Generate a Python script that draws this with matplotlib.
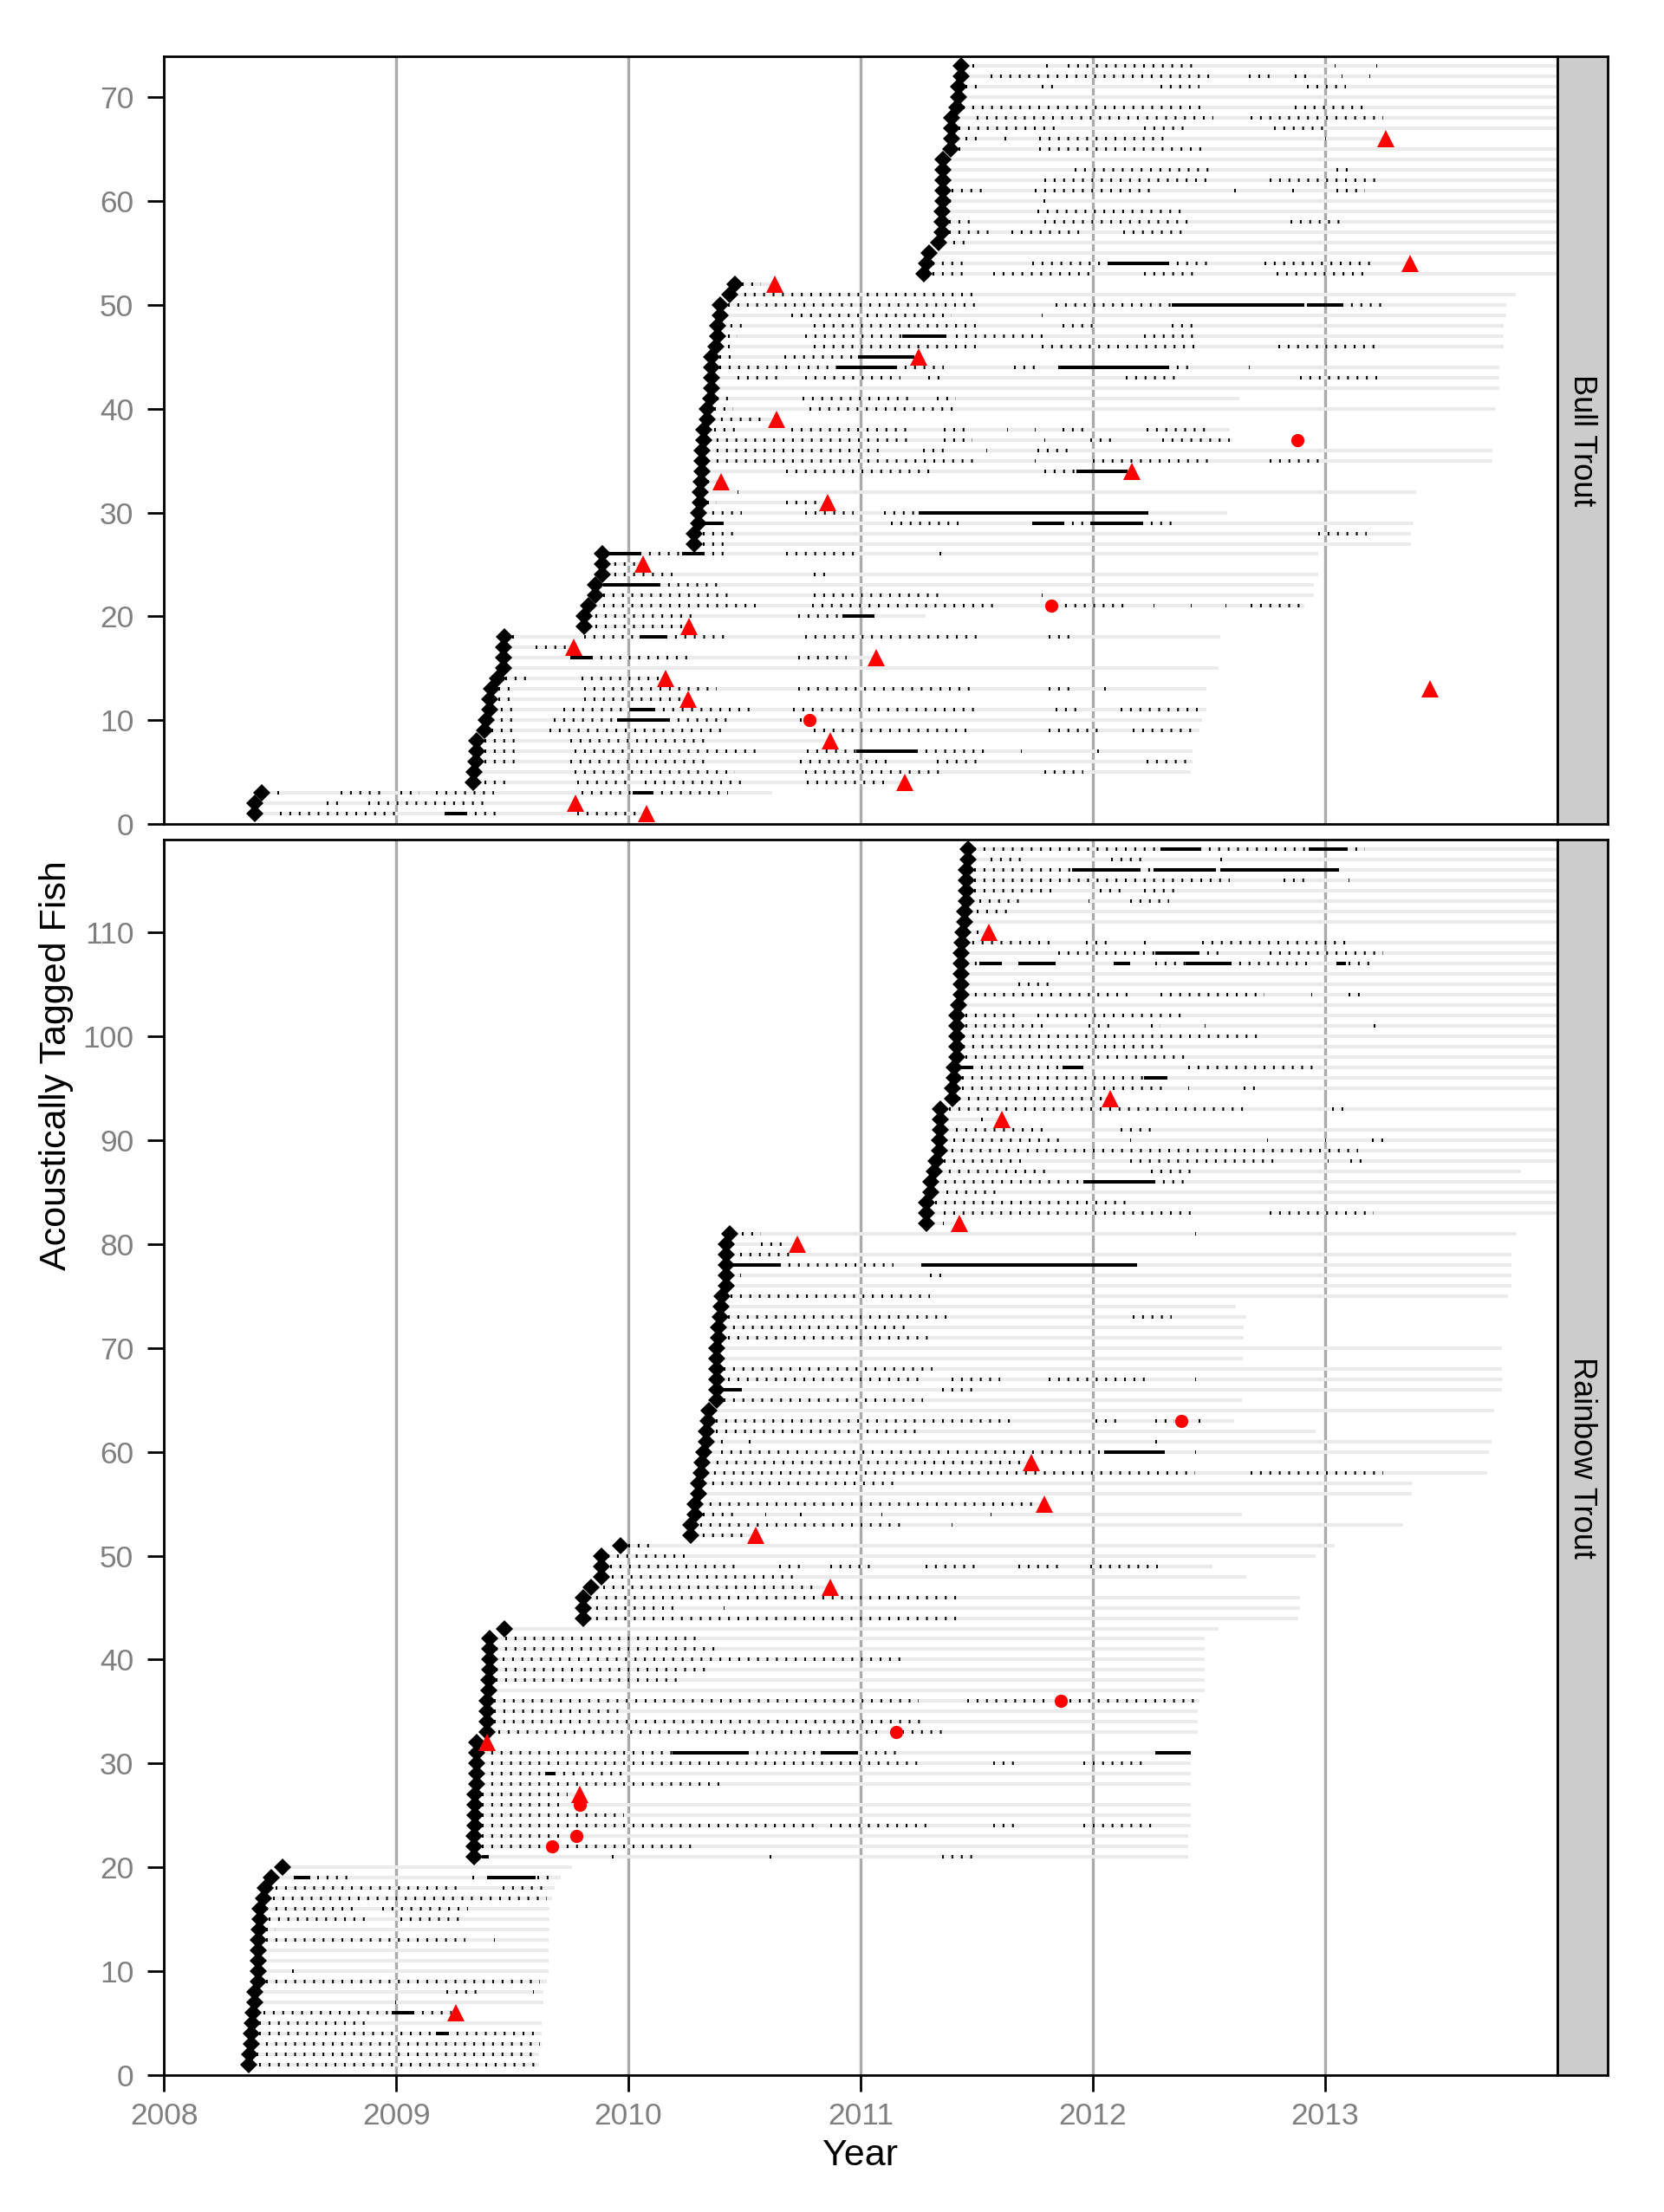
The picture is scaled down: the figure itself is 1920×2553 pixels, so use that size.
import numpy as np
import matplotlib
matplotlib.use('Agg')
import matplotlib.pyplot as plt

plt.rcParams['font.family'] = ['Liberation Sans', 'DejaVu Sans']

# Bull Trout: tag date, end of tag life, detections ('*' = continuous run)
bt_tag = [2008.39, 2008.39, 2008.42, 2009.333, 2009.336, 2009.342, 2009.348, 2009.348, 2009.381, 2009.387,
          2009.402, 2009.402, 2009.411, 2009.438, 2009.462, 2009.462, 2009.462, 2009.465, 2009.81, 2009.81,
          2009.828, 2009.858, 2009.858, 2009.888, 2009.888, 2009.888, 2010.284, 2010.284, 2010.302, 2010.302,
          2010.308, 2010.308, 2010.314, 2010.317, 2010.317, 2010.317, 2010.323, 2010.324, 2010.339, 2010.339,
          2010.354, 2010.36, 2010.36, 2010.36, 2010.36, 2010.378, 2010.384, 2010.384, 2010.396, 2010.396,
          2010.435, 2010.458, 2011.274, 2011.283, 2011.295, 2011.334, 2011.352, 2011.352, 2011.352, 2011.355,
          2011.355, 2011.355, 2011.355, 2011.355, 2011.387, 2011.393, 2011.393, 2011.393, 2011.414, 2011.423,
          2011.423, 2011.432, 2011.432]
bt_end = [2010.08, 2009.77, 2010.62, 2011.19, 2012.42, 2012.43, 2012.43, 2010.87, 2012.46, 2012.47,
          2012.49, 2010.26, 2012.49, 2010.16, 2012.54, 2011.07, 2009.77, 2012.55, 2010.26, 2011.28,
          2012.91, 2012.95, 2012.95, 2012.97, 2010.06, 2012.97, 2013.37, 2013.37, 2013.38, 2012.58,
          2010.86, 2013.39, 2010.40, 2012.17, 2013.72, 2013.72, 2012.60, 2012.59, 2010.64, 2013.73,
          2012.63, 2013.75, 2013.75, 2013.75, 2011.25, 2013.77, 2013.77, 2013.77, 2013.78, 2013.78,
          2013.82, 2010.63, 2014.2, 2013.365, 2014.2, 2014.2, 2014.2, 2014.2, 2014.2, 2014.2,
          2014.2, 2014.2, 2014.2, 2014.2, 2014.2, 2013.263, 2014.2, 2014.2, 2014.2, 2014.2,
          2014.2, 2014.2, 2014.2]
bt_det = [
    "2008.50-2009.00 2009.21-2009.30* 2009.30-2009.46 2009.78-2010.05",
    "2008.70-2008.75 2008.88-2009.38",
    "2008.49 2008.76-2008.94 2009.02-2009.10 2009.17-2009.42 2009.80-2010.02 2010.02-2010.10* 2010.10-2010.43",
    "2009.38-2009.50 2009.78-2010.01 2010.07-2010.49 2010.77-2011.10",
    "2009.36-2009.39 2009.77-2010.46 2010.76-2011.37 2011.79-2011.96",
    "2009.38-2009.53 2009.75-2010.35 2010.74-2011.13 2011.33-2011.51 2012.23-2012.41",
    "2009.38-2009.53 2009.77-2010.55 2010.77-2010.98 2010.98-2011.24* 2011.24-2011.54 2011.69 2012.02",
    "2009.38-2009.53 2009.75-2010.34",
    "2009.41-2009.53 2009.66-2010.43 2010.80-2011.46 2011.81-2012.03 2012.17-2012.44",
    "2009.41-2009.53 2009.68-2009.95 2009.95-2010.17* 2010.17-2010.44 2010.74",
    "2009.41-2009.51 2009.72-2010.01 2010.01-2010.11* 2010.11-2010.53 2010.71-2011.52 2011.84-2011.96 2012.12-2012.48",
    "2009.44-2009.50 2009.81-2010.25",
    "2009.44-2009.51 2009.81-2010.38 2010.73-2011.49 2011.81-2011.90 2012.05",
    "2009.47-2009.57 2009.80-2010.14",
    "",
    "2009.75-2009.84* 2009.84-2010.28 2010.73-2010.94",
    "2009.60-2009.74",
    "2009.50-2009.53 2009.81-2010.05 2010.05-2010.16* 2010.16-2010.44 2010.76-2011.51 2011.81-2011.91",
    "2009.86-2010.25",
    "2009.86-2010.28 2010.73-2010.92 2010.92-2011.06*",
    "2009.89-2010.58 2010.79-2011.58 2011.84-2012.15 2012.26 2012.42 2012.57 2012.68-2012.90",
    "2009.89-2010.46 2010.80-2011.36 2011.78",
    "2009.89-2010.13* 2010.13-2010.41",
    "2009.90-2010.19 2010.80-2010.85",
    "2009.90-2010.04",
    "2009.90-2010.05* 2010.05-2010.23 2010.23-2010.32* 2010.32-2010.41 2010.68-2010.98 2011.34-2011.37",
    "2010.32-2010.41",
    "2010.32-2010.47 2012.97-2013.18",
    "2010.32-2010.41* 2011.13-2011.42 2011.74-2011.87* 2011.87-2011.99 2011.99-2012.21* 2012.21-2012.35",
    "2010.32-2010.49 2010.76-2010.97 2011.10-2011.25 2011.25-2012.24*",
    "2010.34-2010.38 2010.68-2010.82",
    "2010.47",
    "2010.34-2010.38",
    "2010.68-2011.33 2011.79-2011.93 2011.93-2012.15*",
    "2010.34-2011.51 2011.75 2012.00-2012.50 2012.76-2013.00",
    "2010.34-2011.10 2011.27-2011.37 2011.54 2011.76-2011.90",
    "2010.34-2011.22 2011.36-2011.48 2011.79 2011.99-2012.08 2012.30-2012.59",
    "2010.37-2010.49 2010.70-2011.21 2011.36-2011.45 2011.63 2011.75 2011.87-2011.96 2012.23-2012.50",
    "2010.36-2010.60",
    "2010.37-2010.45 2010.78-2011.41",
    "2010.38-2010.45 2010.75-2011.21 2011.33-2011.41",
    "",
    "2010.47-2010.66 2010.76-2011.17 2011.29-2011.35 2012.14-2012.38 2012.89-2013.25",
    "2010.39-2010.70 2010.73-2010.90 2010.90-2011.15* 2011.15-2011.36 2011.66-2011.75 2011.85-2012.32* 2012.32-2012.41 2012.67",
    "2010.39-2010.45 2010.67-2010.99 2010.99-2011.23*",
    "2010.43 2010.80-2011.50 2011.78-2012.44 2012.80-2013.24",
    "2010.43-2010.47 2010.76-2011.18 2011.18-2011.37* 2011.41-2011.81 2012.22-2012.44",
    "2010.40-2010.51 2010.80-2011.50 2011.87-2012.02 2012.34-2012.44",
    "2010.70-2011.39 2011.78",
    "2010.43-2011.50 2011.84-2012.34 2012.34-2012.91* 2012.92-2013.07* 2013.07-2013.25",
    "2010.46-2011.50",
    "2010.49-2010.57",
    "2011.31-2011.45 2011.57-2012.01 2012.22-2012.44 2012.79-2013.17",
    "2011.31-2011.45 2011.74-2012.07 2012.07-2012.32* 2012.32-2012.50 2012.74-2013.22",
    "",
    "2011.36-2011.46",
    "2011.38-2011.57 2011.65-2011.95 2012.13-2012.40",
    "2011.38-2011.47 2011.79-2012.44 2012.85-2013.08",
    "2011.76-2012.38",
    "2011.384 2011.789",
    "2011.39-2011.53 2011.75-2012.26 2012.61 2012.86 2013.05-2013.17",
    "2011.79-2012.51 2012.76-2013.22",
    "2011.92-2012.52 2013.05-2013.10",
    "",
    "2011.42-2011.45 2011.77-2012.49",
    "2011.45-2011.53 2011.62 2011.77-2012.31 2013.00",
    "2011.42-2011.86 2012.22-2012.41 2012.78-2013.00",
    "2011.50-2012.52 2012.68-2013.25",
    "2011.44-2012.49 2012.87-2013.19",
    "",
    "2011.45-2011.53 2011.78-2011.84 2012.29-2012.46 2012.92-2013.09",
    "2011.56-2012.52 2012.67-2012.76 2012.87-2012.92 2013.07 2013.19",
    "2011.48-2011.51 2011.80-2011.83 2011.89-2012.44 2013.04 2013.22",
]
bt_tri_fish = [1, 2, 4, 8, 12, 13, 14, 16, 17, 19, 25, 31, 33, 34, 39, 45, 52, 54, 66]
bt_tri_date = [2010.08, 2009.774, 2011.19, 2010.869, 2010.257, 2013.45, 2010.161, 2011.067, 2009.765, 2010.26,
               2010.062, 2010.857, 2010.401, 2012.168, 2010.638, 2011.25, 2010.632, 2013.365, 2013.263]
bt_dot_fish = [10, 21, 37]
bt_dot_date = [2010.78, 2011.82, 2012.88]

# Rainbow Trout
rb_tag = [2008.367, 2008.371, 2008.377, 2008.377, 2008.38, 2008.386, 2008.39, 2008.39, 2008.405, 2008.408,
          2008.408, 2008.408, 2008.408, 2008.411, 2008.415, 2008.415, 2008.43, 2008.437, 2008.462, 2008.512,
          2009.337, 2009.337, 2009.337, 2009.341, 2009.341, 2009.341, 2009.341, 2009.348, 2009.348, 2009.348,
          2009.348, 2009.348, 2009.39, 2009.39, 2009.39, 2009.39, 2009.398, 2009.398, 2009.403, 2009.403,
          2009.403, 2009.403, 2009.468, 2009.807, 2009.807, 2009.807, 2009.84, 2009.884, 2009.884, 2009.884,
          2009.965, 2010.267, 2010.267, 2010.289, 2010.289, 2010.304, 2010.304, 2010.315, 2010.318, 2010.325,
          2010.336, 2010.336, 2010.344, 2010.347, 2010.381, 2010.381, 2010.381, 2010.381, 2010.381, 2010.381,
          2010.389, 2010.389, 2010.397, 2010.399, 2010.404, 2010.42, 2010.42, 2010.42, 2010.42, 2010.42,
          2010.436, 2011.284, 2011.284, 2011.284, 2011.302, 2011.304, 2011.318, 2011.324, 2011.339, 2011.339,
          2011.343, 2011.343, 2011.343, 2011.396, 2011.396, 2011.404, 2011.404, 2011.416, 2011.416, 2011.416,
          2011.416, 2011.416, 2011.42, 2011.431, 2011.431, 2011.431, 2011.431, 2011.431, 2011.437, 2011.441,
          2011.447, 2011.447, 2011.457, 2011.457, 2011.457, 2011.457, 2011.461, 2011.461]
rb_end = [2009.614, 2009.614, 2009.625, 2009.625, 2009.625, 2009.26, 2009.635, 2009.635, 2009.648, 2009.656,
          2009.656, 2009.656, 2009.656, 2009.66, 2009.66, 2009.66, 2009.672, 2009.681, 2009.71, 2009.756,
          2012.41, 2012.41, 2012.41, 2012.42, 2012.42, 2012.42, 2009.79, 2012.42, 2012.42, 2012.42,
          2012.42, 2009.392, 2012.45, 2012.45, 2012.45, 2012.46, 2012.48, 2012.48, 2012.48, 2012.48,
          2012.48, 2012.48, 2012.54, 2012.885, 2012.89, 2012.89, 2010.869, 2012.66, 2012.515, 2012.96,
          2013.04, 2010.549, 2013.337, 2012.64, 2011.79, 2013.374, 2013.374, 2013.696, 2011.735, 2013.706,
          2013.717, 2012.958, 2012.607, 2013.727, 2012.642, 2013.762, 2013.762, 2013.762, 2012.644, 2013.762,
          2012.65, 2012.65, 2012.66, 2012.615, 2013.788, 2013.804, 2013.804, 2013.804, 2013.804, 2010.726,
          2013.822, 2011.427, 2014.2, 2014.2, 2014.2, 2014.2, 2013.843, 2014.2, 2014.2, 2014.2,
          2014.2, 2011.608, 2014.2, 2012.073, 2014.2, 2014.2, 2014.2, 2014.2, 2014.2, 2014.2,
          2014.2, 2014.2, 2014.2, 2014.2, 2014.2, 2014.2, 2014.2, 2014.2, 2014.2, 2011.553,
          2014.2, 2014.2, 2014.2, 2014.2, 2014.2, 2014.2, 2014.2, 2014.2]
rb_det = [
    "2008.41-2009.60",
    "2008.40-2009.59",
    "2008.40-2009.62",
    "2008.41-2009.17 2009.17-2009.22* 2009.22-2009.61",
    "2008.41-2008.88",
    "2008.43-2008.98 2008.98-2009.07* 2009.07-2009.24",
    "2008.996",
    "2009.215-2009.36 2009.59",
    "2008.44-2009.62",
    "2008.554",
    "",
    "",
    "2008.44-2009.30 2009.42",
    "2008.44-2008.48",
    "2008.45-2008.89 2009.02-2009.29",
    "2008.44-2008.83 2008.94-2009.31",
    "2008.47-2009.65",
    "2008.48-2009.28 2009.46-2009.65",
    "2008.56-2008.63* 2008.66-2008.82 2009.33 2009.39-2009.60* 2009.61-2009.66",
    "",
    "2009.37-2009.40* 2009.93 2010.61 2011.35-2011.50",
    "2009.37-2010.29",
    "2009.37-2009.70",
    "2009.37-2010.80 2010.87-2011.29 2011.57-2011.69 2011.96-2012.28",
    "2009.37-2009.98",
    "2009.37-2009.71",
    "2009.37-2009.74",
    "2009.37-2010.39",
    "2009.37-2009.64 2009.64-2009.68* 2009.68-2009.99",
    "2009.37-2011.27 2011.57-2011.69 2011.96-2012.23",
    "2009.37-2010.19 2010.19-2010.51* 2010.51-2010.83 2010.83-2010.98* 2010.98-2011.18 2012.27-2012.42*",
    "",
    "2009.44-2011.07 2011.18-2011.35",
    "2009.42-2011.28",
    "2009.42-2009.98",
    "2009.42-2011.25 2011.46-2011.82 2011.90-2012.45",
    "",
    "2009.43-2010.23",
    "2009.43-2010.36",
    "2009.46-2011.18",
    "2009.43-2010.39",
    "2009.47-2010.29",
    "",
    "2009.82-2011.42",
    "2009.82-2010.21 2010.41",
    "2009.82-2011.42",
    "2009.89-2010.80",
    "2009.93-2010.72",
    "2009.92-2010.47 2010.65-2010.74 2010.87-2011.04 2011.28-2011.51 2011.68-2011.86 2011.99-2012.28",
    "2009.91-2010.27",
    "2010.00-2010.11",
    "2010.28-2010.52",
    "2010.31-2011.20 2011.39",
    "2010.32-2010.47 2010.59 2010.74 2011.09 2011.56",
    "2010.31-2011.76",
    "",
    "2010.32-2011.17",
    "2010.33-2012.44 2012.68-2013.25",
    "2010.34-2011.69",
    "2010.40-2012.05 2012.05-2012.31* 2012.44",
    "2010.36-2010.41 2010.52-2010.55 2012.27",
    "2010.375-2011.27",
    "2010.375-2011.65 2012.01-2012.10 2012.27-2012.35 2012.457",
    "",
    "2010.41-2011.27",
    "2010.39-2010.49* 2011.35-2011.50",
    "2010.43-2011.26 2011.39-2011.60 2011.81-2012.25 2012.44",
    "2010.41-2011.31",
    "",
    "",
    "2010.43-2011.30",
    "2010.41-2011.19",
    "2010.43-2011.40 2012.17-2012.34",
    "",
    "2010.44-2011.30",
    "",
    "2010.48 2011.30-2011.35",
    "2010.42-2010.65* 2010.65-2011.14 2011.26-2012.19*",
    "2010.48-2010.72",
    "2010.57-2010.68",
    "2010.49-2010.57 2012.44",
    "2011.355",
    "2011.36-2012.44 2012.76-2013.21",
    "2011.32-2012.15",
    "2011.37-2011.61",
    "2011.32-2011.96 2011.96-2012.26* 2012.26-2012.39",
    "2011.34-2011.82 2012.25-2012.45",
    "2011.36-2011.69 2012.16-2012.79 2013.01 2013.11-2013.16",
    "2011.35-2013.14",
    "2011.40-2011.87 2012.16 2012.75 2013.00 2013.20-2013.25",
    "2011.41-2011.79 2012.12-2012.28",
    "2011.52",
    "2011.38-2012.65 2013.03-2013.10",
    "2011.42-2012.05",
    "2011.435-2012.31 2012.41 2012.65-2012.70",
    "2011.435-2012.22 2012.22-2012.32*",
    "2011.42-2011.476* 2011.476-2011.87 2011.87-2011.96* 2012.41-2012.96",
    "2011.45-2012.40",
    "2011.44-2012.31",
    "2011.44-2012.72",
    "2011.45-2011.79 2011.98-2012.08 2012.25-2012.29 2012.48 2013.21",
    "2011.45-2011.68 2011.76-2012.40",
    "",
    "2011.45-2012.17 2012.29-2012.74 2012.94 2013.10-2013.18",
    "2011.68-2011.82",
    "",
    "2011.45-2011.51 2011.51-2011.61* 2011.68-2011.84* 2012.09-2012.16* 2012.27-2012.40 2012.40-2012.59* 2012.59-2012.94 2013.05-2013.09* 2013.10-2013.20",
    "2011.85-2012.27 2012.27-2012.45* 2012.45-2012.57 2012.76-2013.25",
    "2011.44-2011.82 2011.97-2012.07 2012.22-2012.24 2012.47-2013.11",
    "2011.50-2011.52",
    "",
    "2011.50-2011.65",
    "2011.51-2011.71 2011.98 2012.16-2012.33",
    "2011.49-2011.82 2012.03-2012.14 2012.22-2012.35",
    "2011.49-2012.59 2012.82-2012.91 2013.10",
    "2011.49-2011.91 2011.91-2012.196* 2012.196-2012.26 2012.26-2012.522* 2012.522-2012.55 2012.55-2013.06*",
    "2011.56-2011.70 2012.08-2012.24 2012.55",
    "2011.49-2012.29 2012.29-2012.46* 2012.46-2012.93 2012.93-2013.09* 2013.09-2013.17",
]
rb_tri_fish = [6, 27, 32, 47, 52, 55, 59, 80, 82, 92, 94, 110]
rb_tri_date = [2009.259, 2009.79, 2009.392, 2010.869, 2010.549, 2011.79, 2011.735, 2010.726, 2011.427, 2011.608,
               2012.073, 2011.553]
rb_dot_fish = [22, 23, 26, 33, 36, 63]
rb_dot_date = [2009.67, 2009.777, 2009.792, 2011.153, 2011.862, 2012.381]

years = [2008, 2009, 2010, 2011, 2012, 2013]


def parse_det(det):
    dashed, solid = [], []
    for i, s in enumerate(det):
        for tok in s.split():
            cont = tok.endswith('*')
            tok = tok.rstrip('*')
            if '-' in tok:
                a, b = [float(v) for v in tok.split('-')]
            else:
                a = float(tok)
                b = a + 0.005
                cont = True
            (solid if cont else dashed).append((i + 1, a, b))
    return dashed, solid


def draw_panel(ax, tag, end, det, tri_fish, tri_date, dot_fish, dot_date, ymax, yticks):
    rows = np.arange(1, len(tag) + 1)
    ax.hlines(rows, tag, end, colors='#EBEBEB', lw=2.9, zorder=2)
    dashed, solid = parse_det(det)
    if dashed:
        y, a, b = zip(*dashed)
        ax.hlines(y, a, b, colors='black', lw=2.9, linestyles=[(0, (0.5, 2.2))], zorder=3)
    if solid:
        y, a, b = zip(*solid)
        ax.hlines(y, a, b, colors='black', lw=2.9, zorder=3)
    ax.plot(tag, rows, 'D', color='black', ms=10, mew=0, zorder=4)
    ax.plot(tri_date, tri_fish, '^', color='red', ms=14, mew=0, zorder=5)
    ax.plot(dot_date, dot_fish, 'o', color='red', ms=11, mew=0, zorder=5)

    ax.set_xlim(2008, 2014)
    ax.set_ylim(0, ymax)
    ax.set_xticks(years)
    ax.set_xticklabels([str(y) for y in years])
    ax.set_yticks(yticks)
    ax.grid(axis='x', color='#AAAAAA', lw=2.4)
    ax.set_axisbelow(True)
    for sp in ax.spines.values():
        sp.set_linewidth(2)
    ax.tick_params(axis='both', length=14, width=2, labelsize=25.5, labelcolor='#7F7F7F')
    ax.tick_params(axis='y', pad=11)
    ax.tick_params(axis='x', pad=8)


def draw_strip(fig, rect, label):
    sax = fig.add_axes(rect)
    sax.set_facecolor('#CCCCCC')
    sax.set_xticks([])
    sax.set_yticks([])
    for sp in sax.spines.values():
        sp.set_linewidth(2)
    sax.text(0.5, 0.5, label, rotation=-90, fontsize=26, ha='center', va='center', transform=sax.transAxes)


W, H = 1920, 2553
fig = plt.figure(figsize=(W / 100, H / 100), dpi=100)
left, right = 189, 1797
ax1 = fig.add_axes([left / W, 1 - 951 / H, (right - left) / W, (951 - 65) / H])
ax2 = fig.add_axes([left / W, 1 - 2395 / H, (right - left) / W, (2395 - 969) / H])

draw_panel(ax1, bt_tag, bt_end, bt_det, bt_tri_fish, bt_tri_date, bt_dot_fish, bt_dot_date,
           73.95, range(0, 71, 10))
draw_panel(ax2, rb_tag, rb_end, rb_det, rb_tri_fish, rb_tri_date, rb_dot_fish, rb_dot_date,
           118.95, range(0, 111, 10))
ax1.tick_params(axis='x', length=0, labelbottom=False)

draw_strip(fig, [right / W, 1 - 951 / H, 58 / W, (951 - 65) / H], 'Bull Trout')
draw_strip(fig, [right / W, 1 - 2395 / H, 58 / W, (2395 - 969) / H], 'Rainbow Trout')

fig.text(65 / W, 1 - 1230 / H, 'Acoustically Tagged Fish', rotation=90, fontsize=31, ha='center', va='center')
fig.text(993 / W, 1 - 2488 / H, 'Year', fontsize=31, ha='center', va='center')

fig.savefig('out.png', dpi=100)
